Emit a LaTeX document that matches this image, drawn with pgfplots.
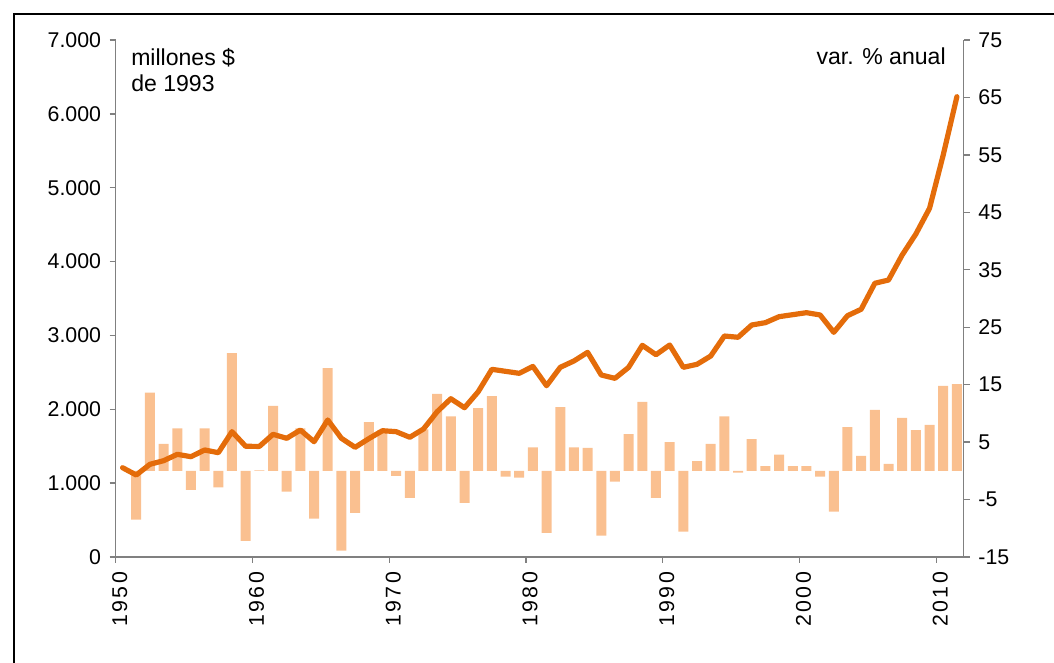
\documentclass[border=0pt]{standalone}
\usepackage{pgfplots}
\pgfplotsset{compat=1.18}
\usepackage{fontspec}
\setmainfont{Liberation Sans}
\newfontfamily\espaciada[LetterSpace=12]{Liberation Sans}
\definecolor{linea}{RGB}{228,108,10}
\definecolor{barra}{RGB}{250,192,144}
\definecolor{eje}{RGB}{128,128,128}

% PIB real (millones $ de 1993)
\pgfplotstableread{
anio valor
1950 1209
1951 1110
1952 1255
1953 1304
1954 1390
1955 1358
1956 1449
1957 1412
1958 1697
1959 1499
1960 1497
1961 1661
1962 1607
1963 1719
1964 1561
1965 1855
1966 1607
1967 1485
1968 1602
1969 1710
1970 1697
1971 1621
1972 1733
1973 1967
1974 2143
1975 2021
1976 2237
1977 2541
1978 2514
1979 2487
1980 2580
1981 2319
1982 2568
1983 2654
1984 2771
1985 2464
1986 2419
1987 2568
1988 2866
1989 2739
1990 2870
1991 2568
1992 2609
1993 2721
1994 2992
1995 2975
1996 3141
1997 3173
1998 3254
1999 3281
2000 3308
2001 3277
2002 3042
2003 3267
2004 3354
2005 3706
2006 3750
2007 4089
2008 4373
2009 4721
2010 5443
2011 6232
}\nivel

% variacion % anual
\pgfplotstableread{
anio var
1951 -8.5
1952 13.6
1953 4.7
1954 7.4
1955 -3.3
1956 7.4
1957 -2.9
1958 20.5
1959 -12.2
1960 0.1
1961 11.3
1962 -3.6
1963 7.4
1964 -8.3
1965 17.9
1966 -13.9
1967 -7.3
1968 8.5
1969 7.1
1970 -0.9
1971 -4.7
1972 7.2
1973 13.4
1974 9.5
1975 -5.6
1976 10.9
1977 13.0
1978 -1.0
1979 -1.2
1980 4.1
1981 -10.8
1982 11.1
1983 4.1
1984 4.0
1985 -11.3
1986 -1.9
1987 6.4
1988 12.0
1989 -4.7
1990 5.0
1991 -10.6
1992 1.7
1993 4.7
1994 9.5
1995 -0.3
1996 5.5
1997 0.8
1998 2.8
1999 0.8
2000 0.8
2001 -1.0
2002 -7.1
2003 7.6
2004 2.6
2005 10.6
2006 1.2
2007 9.2
2008 7.1
2009 8.0
2010 14.8
2011 15.1
}\variacion

\pgfplotsset{
  comun/.style={
    width=636pt, height=387.75pt, scale only axis,
    xmin=1949.5, xmax=2011.5,
    axis line style={eje, line width=1pt},
    tick style={eje, line width=1pt},
    tick align=outside,
    major tick length=4.5pt,
    /pgf/number format/assume math mode=true,
    tick label style={font=\fontsize{16}{19}\selectfont},
  },
}

\begin{document}
\begin{tikzpicture}
\useasboundingbox (-86.8pt,-79.5pt) rectangle (703.7pt,417.75pt);
\draw[line width=1.5pt] (-76.3pt,-90pt) -- (-76.3pt,407.25pt) -- (720pt,407.25pt);

% barras, eje derecho
\begin{axis}[comun,
    axis y line*=right,
    axis x line=none,
    ymin=-15, ymax=75,
    ytick={-15,-5,...,75},
    ytick pos=right,
    yticklabel style={xshift=3pt},
]
\addplot[ybar, bar width=7.5pt, fill=barra, draw=none] table[x=anio, y=var] {\variacion};
\end{axis}

% linea, eje izquierdo
\begin{axis}[comun,
    axis y line*=left,
    axis x line*=bottom,
    ymin=0, ymax=7000,
    ytick={0,1000,...,7000},
    /pgf/number format/1000 sep={.},
    yticklabel style={xshift=-3pt},
    xtick={1949.5,1959.5,...,2009.5},
    xticklabels={1950,1960,1970,1980,1990,2000,2010},
    xticklabel style={rotate=90, anchor=east, xshift=-3pt, yshift=-3pt,
      font=\espaciada\fontsize{16}{19}\selectfont},
]
\addplot[linea, line width=3.9pt, line join=round, line cap=round] table[x=anio, y=valor] {\nivel};
\node[anchor=north west, align=left, font=\fontsize{17.3}{20}\selectfont, inner sep=0pt]
  at (rel axis cs:0.018,0.985) {millones \$\\de 1993};
\node[anchor=north east, font=\fontsize{17.3}{20}\selectfont, inner sep=0pt]
  at (rel axis cs:0.979,0.985) {var. \% anual};
\end{axis}
\end{tikzpicture}
\end{document}
